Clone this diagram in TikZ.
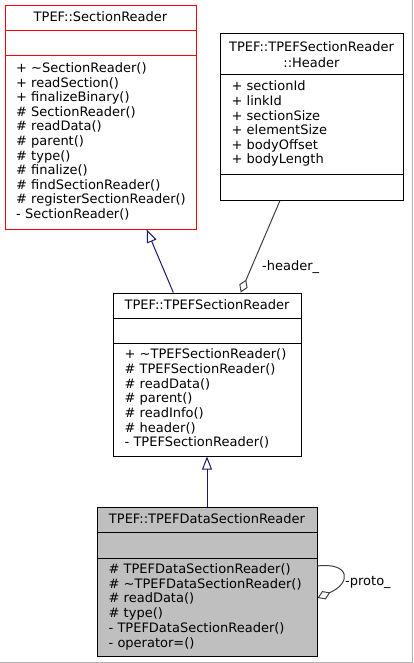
\documentclass[tikz,border=0pt]{standalone}
\usepackage{fontspec}
\setmainfont{DejaVu Sans}
\usetikzlibrary{arrows.meta}
\definecolor{edgeblue}{HTML}{191970}
\definecolor{edgegray}{HTML}{404040}
\definecolor{boxgray}{HTML}{BFBFBF}
\definecolor{framegray}{HTML}{B0B0B0}
\newcommand\memberlist[5]{%
  \foreach \mtext [count=\mi] in {#5} {%
    \node[txt, anchor=base west] (#1-\mi) at (#2, {#3+(\mi-1)*#4}) {\mtext};
  }%
}
\begin{document}
\begin{tikzpicture}[x=1pt, y=-1pt,
  txt/.style={inner sep=0pt, font=\fontsize{13}{14.7}\selectfont},
  classbox/.style={draw=black, line width=1pt, inner sep=0pt, fill=white},
  inh/.style={draw=edgeblue, line width=1pt, -{Triangle[open, length=13pt, width=10pt]}},
  agg/.style={draw=edgegray, line width=1pt, -{Diamond[open, length=14pt, width=9pt]}},
  sep/.style={line width=1pt}]
\useasboundingbox (0,0) rectangle (413,663);
\fill[white] (0,0) rectangle (413,663);
\draw[framegray, line width=1.2pt] (412.4,0) -- (412.4,662.4) -- (0,662.4);

% SectionReader
\node[classbox, draw=red, minimum width=191, minimum height=223] (sr) at (100.5,117.5) {};
\draw[sep, red] (5,31) -- (196,31);
\draw[sep, red] (5,56) -- (196,56);
\node[txt, anchor=base] (sr-t) at (100.5,21.7) {TPEF::SectionReader};
\memberlist{sr}{16}{72.7}{14.56}{+ \textasciitilde SectionReader(), + readSection(), + finalizeBinary(), \# SectionReader(), \# readData(), \# parent(), \# type(), \# finalize(), \# findSectionReader(), \# registerSectionReader(), - SectionReader()}

% Header
\node[classbox, minimum width=183, minimum height=166] (h) at (311.5,117) {};
\draw[sep] (220,75) -- (403,75);
\draw[sep] (220,174) -- (403,174);
\node[txt, anchor=base] (h-t1) at (311.5,51.5) {TPEF::TPEFSectionReader};
\node[txt, anchor=base] (h-t2) at (311.5,67.5) {::Header};
\memberlist{h}{231.5}{90.7}{14.66}{+ sectionId, + linkId, + sectionSize, + elementSize, + bodyOffset, + bodyLength}

% TPEFSectionReader
\node[classbox, minimum width=188, minimum height=163] (tsr) at (207,374.5) {};
\draw[sep] (113,318) -- (301,318);
\draw[sep] (113,343) -- (301,343);
\node[txt, anchor=base] (tsr-t) at (207,309) {TPEF::TPEFSectionReader};
\memberlist{tsr}{124.5}{358.7}{14.7}{+ \textasciitilde TPEFSectionReader(), \# TPEFSectionReader(), \# readData(), \# parent(), \# readInfo(), \# header(), - TPEFSectionReader()}

% TPEFDataSectionReader
\node[classbox, fill=boxgray, minimum width=220, minimum height=149] (tdsr) at (207,581.5) {};
\draw[sep] (97,532) -- (317,532);
\draw[sep] (97,558) -- (317,558);
\node[txt, anchor=base] (tdsr-t) at (207,523.3) {TPEF::TPEFDataSectionReader};
\memberlist{tdsr}{108.5}{573.3}{14.8}{\# TPEFDataSectionReader(), \# \textasciitilde TPEFDataSectionReader(), \# readData(), \# type(), - TPEFDataSectionReader(), - operator=()}

% connectors
\draw[inh] ([xshift=-33.7]tsr.north) -- ([xshift=46.2]sr.south);
\draw[inh] (tdsr.north) -- (tsr.south);
\draw[agg] ([xshift=-31.5]h.south) -- ([xshift=33.7]tsr.north);
\node[txt, anchor=base west] (hl) at (262,270.7) {-header\_};
\draw[agg] ([yshift=15.5]tdsr.east) .. controls (350,562) and (352,583) .. ([yshift=-16.5]tdsr.east);
\node[txt, anchor=base west] (pl) at (345,585) {-proto\_};
\end{tikzpicture}
\end{document}
